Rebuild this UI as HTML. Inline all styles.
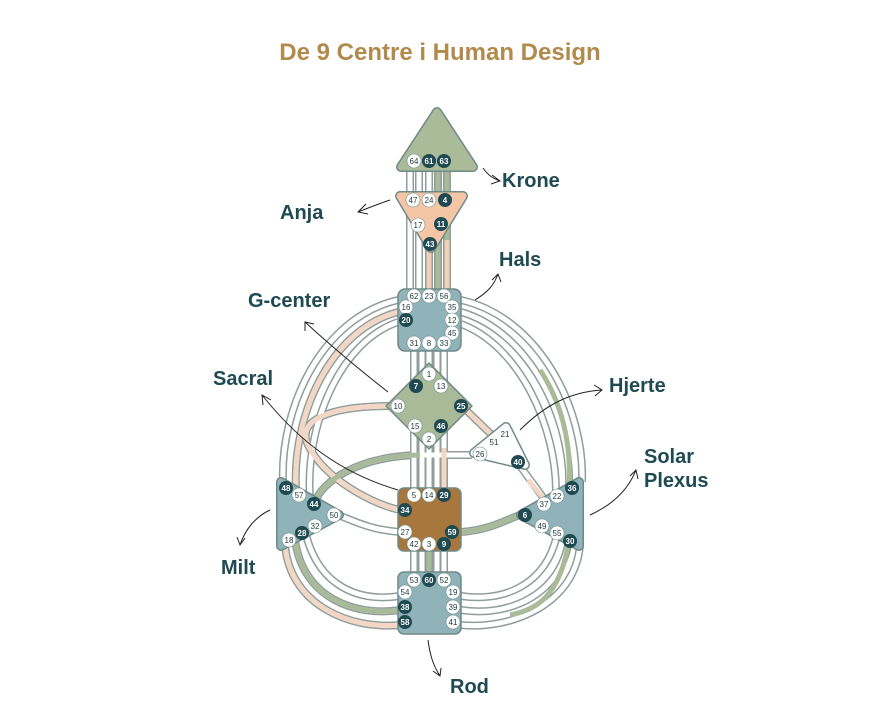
<!DOCTYPE html>
<html><head><meta charset="utf-8"><style>
html,body{margin:0;padding:0;background:#fff;}
svg{display:block;font-family:"Liberation Sans",sans-serif;}
.g text{font-size:8px;text-anchor:middle;}
.lab{font-size:20px;font-weight:bold;fill:#1f4a52;}
</style></head><body>
<svg width="880" height="727" viewBox="0 0 880 727" xmlns="http://www.w3.org/2000/svg">
<defs>
<g id="ch" fill="none">
<path d="M410,165V292M419,165V292M429,165V292M438,165V292M447,165V292"/>
<path d="M414,350V575M422,350V575M429,350V575M437,350V575M444,350V575"/>
<path d="M398,300C320,318 280,410 283,482"/>
<path d="M398,312C330,330 292,415 296,490"/>
<path d="M398,322C340,342 305,425 310,498"/>
<path d="M285,545C290,605 350,630 400,625"/>
<path d="M295,540C303,598 355,617 400,610"/>
<path d="M306,535C320,588 360,602 400,596"/>
<path d="M461,300C540,318 585,410 582,482"/>
<path d="M461,312C530,332 572,420 569,488"/>
<path d="M461,324C520,346 557,428 556,494"/>
<path d="M580,545C575,605 510,630 461,625"/>
<path d="M569,540C560,598 505,617 461,610"/>
<path d="M557,535C545,588 500,602 461,596"/>
<path d="M472,455L420,455C360,456 322,480 314,504"/>
<path d="M390,406C330,406 296,420 308,445C325,480 375,505 400,510"/>
<path d="M400,532C370,530 352,520 338,515"/>
<path d="M461,532C490,530 505,520 520,515"/>
<path d="M466,410L497,440M520,466L545,500"/>
</g>
<g id="tri">
<path d="M437,112L401,167L473,167Z"/>
<path d="M400,196L463,196L431,248Z"/>
<path d="M506,427L474,453L525,465Z"/>
<path d="M281,482L281,546L339,515Z"/>
<path d="M579,482L579,546L521,515Z"/>
</g>
</defs>
<text x="440" y="60" text-anchor="middle" font-size="24" font-weight="bold" fill="#b28a4c">De 9 Centre i Human Design</text>
<use href="#ch" stroke="#8f9e9a" stroke-width="8"/>
<use href="#ch" stroke="#fff" stroke-width="5"/>
<g fill="none" stroke-width="5">
<path d="M438,165V292M447,165V240" stroke="#a9ba98"/>
<path d="M447,240V292M429,250V290" stroke="#f3d0b8"/>
<path d="M398,312C330,330 292,415 296,490" stroke="#f3d6c4"/>
<path d="M390,406C330,406 296,420 308,445C325,480 375,505 400,510" stroke="#f3d6c4"/>
<path d="M420,455C360,456 322,480 314,504" stroke="#a9ba98"/>
<path d="M461,532C490,530 505,520 520,515" stroke="#a9ba98"/>
<path d="M569,488C572,440 560,400 540,370" stroke="#a9ba98"/>
<path d="M295,540C303,598 355,617 400,610" stroke="#a9ba98"/>
<path d="M285,545C290,605 350,630 400,625" stroke="#f3d6c4"/>
<path d="M569,540C560,598 535,610 510,615" stroke="#a9ba98"/>
<path d="M466,410L497,440" stroke="#f3d6c4"/>
<path d="M528,480L545,500" stroke="#f3d6c4"/>
<path d="M444,448V500" stroke="#f3d6c4"/>
<path d="M429,551V575" stroke="#a9ba98"/>
</g>
<!-- centers -->
<use href="#tri" stroke="#6f8a86" stroke-width="10" stroke-linejoin="round" fill="#6f8a86"/>
<g stroke-linejoin="round" stroke-width="7">
<path d="M437,112L401,167L473,167Z" fill="#aabb9a" stroke="#aabb9a"/>
<path d="M400,196L463,196L431,248Z" fill="#f5c6a5" stroke="#f5c6a5"/>
<path d="M506,427L474,453L525,465Z" fill="#fff" stroke="#fff"/>
<path d="M281,482L281,546L339,515Z" fill="#8fb3b8" stroke="#8fb3b8"/>
<path d="M579,482L579,546L521,515Z" fill="#8fb3b8" stroke="#8fb3b8"/>
</g>
<g stroke="#6f8a86" stroke-width="1.5" stroke-linejoin="round">
<rect x="398" y="289" width="63" height="62" rx="7" fill="#8fb3b8"/>
<path d="M429,363L472,406L429,449L386,406Z" fill="#a9ba98"/>
<rect x="398" y="488" width="63" height="63" rx="6" fill="#a8773e"/>
<rect x="398" y="572" width="63" height="62" rx="6" fill="#8fb3b8"/>
</g>
<!-- gates -->
<g class="g">
<g fill="#fff" stroke="#6f8a86" stroke-width=".6">
<circle cx="414" cy="161" r="7"/><circle cx="413" cy="200" r="7"/><circle cx="429" cy="200" r="7"/><circle cx="418" cy="225" r="7"/>
<circle cx="414" cy="296" r="7"/><circle cx="429" cy="296" r="7"/><circle cx="444" cy="296" r="7"/><circle cx="406" cy="307" r="7"/><circle cx="452" cy="307" r="7"/><circle cx="452" cy="320" r="7"/><circle cx="452" cy="333" r="7"/><circle cx="414" cy="343" r="7"/><circle cx="429" cy="343" r="7"/><circle cx="444" cy="343" r="7"/>
<circle cx="429" cy="374" r="7"/><circle cx="441" cy="386" r="7"/><circle cx="398" cy="406" r="7"/><circle cx="415" cy="426" r="7"/><circle cx="429" cy="439" r="7"/>
<circle cx="480" cy="454" r="7"/>
<circle cx="414" cy="495" r="7"/><circle cx="429" cy="495" r="7"/><circle cx="405" cy="532" r="7"/><circle cx="414" cy="544" r="7"/><circle cx="429" cy="544" r="7"/>
<circle cx="414" cy="580" r="7"/><circle cx="444" cy="580" r="7"/><circle cx="405" cy="592" r="7"/><circle cx="453" cy="592" r="7"/><circle cx="453" cy="607" r="7"/><circle cx="453" cy="622" r="7"/>
<circle cx="299" cy="495" r="7"/><circle cx="334" cy="515" r="7"/><circle cx="315" cy="526" r="7"/><circle cx="289" cy="540" r="7"/>
<circle cx="557" cy="496" r="7"/><circle cx="544" cy="504" r="7"/><circle cx="542" cy="526" r="7"/><circle cx="557" cy="533" r="7"/>
</g>
<g fill="#1f4a52">
<circle cx="429" cy="161" r="7"/><circle cx="444" cy="161" r="7"/><circle cx="445" cy="200" r="7"/><circle cx="441" cy="224" r="7"/><circle cx="430" cy="244" r="7"/>
<circle cx="406" cy="320" r="7"/><circle cx="416" cy="386" r="7"/><circle cx="461" cy="406" r="7"/><circle cx="441" cy="426" r="7"/>
<circle cx="518" cy="462" r="7"/><circle cx="444" cy="495" r="7"/><circle cx="405" cy="510" r="7"/><circle cx="452" cy="532" r="7"/><circle cx="444" cy="544" r="7"/>
<circle cx="429" cy="580" r="7"/><circle cx="405" cy="607" r="7"/><circle cx="405" cy="622" r="7"/>
<circle cx="286" cy="488" r="7"/><circle cx="314" cy="504" r="7"/><circle cx="302" cy="533" r="7"/>
<circle cx="572" cy="488" r="7"/><circle cx="525" cy="515" r="7"/><circle cx="570" cy="541" r="7"/>
</g>
<g fill="#1f3a3a">
<text x="414" y="164">64</text><text x="413" y="203">47</text><text x="429" y="203">24</text><text x="418" y="228">17</text>
<text x="414" y="299">62</text><text x="429" y="299">23</text><text x="444" y="299">56</text><text x="406" y="310">16</text><text x="452" y="310">35</text><text x="452" y="323">12</text><text x="452" y="336">45</text><text x="414" y="346">31</text><text x="429" y="346">8</text><text x="444" y="346">33</text>
<text x="429" y="377">1</text><text x="441" y="389">13</text><text x="398" y="409">10</text><text x="415" y="429">15</text><text x="429" y="442">2</text>
<text x="505" y="437">21</text><text x="494" y="445">51</text><text x="480" y="457">26</text>
<text x="414" y="498">5</text><text x="429" y="498">14</text><text x="405" y="535">27</text><text x="414" y="547">42</text><text x="429" y="547">3</text>
<text x="414" y="583">53</text><text x="444" y="583">52</text><text x="405" y="595">54</text><text x="453" y="595">19</text><text x="453" y="610">39</text><text x="453" y="625">41</text>
<text x="299" y="498">57</text><text x="334" y="518">50</text><text x="315" y="529">32</text><text x="289" y="543">18</text>
<text x="557" y="499">22</text><text x="544" y="507">37</text><text x="542" y="529">49</text><text x="557" y="536">55</text>
</g>
<g fill="#fff" font-weight="bold">
<text x="429" y="164">61</text><text x="444" y="164">63</text><text x="445" y="203">4</text><text x="441" y="227">11</text><text x="430" y="247">43</text>
<text x="406" y="323">20</text><text x="416" y="389">7</text><text x="461" y="409">25</text><text x="441" y="429">46</text>
<text x="518" y="465">40</text><text x="444" y="498">29</text><text x="405" y="513">34</text><text x="452" y="535">59</text><text x="444" y="547">9</text>
<text x="429" y="583">60</text><text x="405" y="610">38</text><text x="405" y="625">58</text>
<text x="286" y="491">48</text><text x="314" y="507">44</text><text x="302" y="536">28</text>
<text x="572" y="491">36</text><text x="525" y="518">6</text><text x="570" y="544">30</text>
</g>
</g>
<!-- arrows -->
<g fill="none" stroke="#222" stroke-width="1">
<path d="M483,168C488,175 492,178 500,181M492,175L500,181L491,184"/>
<path d="M390,200C378,204 368,208 358,212M366,204L358,212L368,214"/>
<path d="M475,300C488,292 494,285 498,274M492,280L498,274L501,282"/>
<path d="M388,392C360,370 330,345 305,322M305,331L305,322L314,324"/>
<path d="M398,490C330,470 290,430 262,395M263,405L262,395L271,400"/>
<path d="M520,430C545,405 570,392 602,390M594,385L602,390L595,396"/>
<path d="M590,515C612,505 628,490 636,470M630,476L636,470L638,479"/>
<path d="M270,510C255,517 245,530 240,545M237,537L240,545L245,538"/>
<path d="M428,640C430,655 433,665 440,676M433,671L440,676L441,668"/>
</g>
<text class="lab" x="502" y="187">Krone</text>
<text class="lab" x="280" y="219">Anja</text>
<text class="lab" x="499" y="266">Hals</text>
<text class="lab" x="248" y="307">G-center</text>
<text class="lab" x="213" y="385">Sacral</text>
<text class="lab" x="609" y="392">Hjerte</text>
<text class="lab" x="644" y="463">Solar</text>
<text class="lab" x="644" y="487">Plexus</text>
<text class="lab" x="221" y="574">Milt</text>
<text class="lab" x="450" y="693">Rod</text>
</svg>
</body></html>
